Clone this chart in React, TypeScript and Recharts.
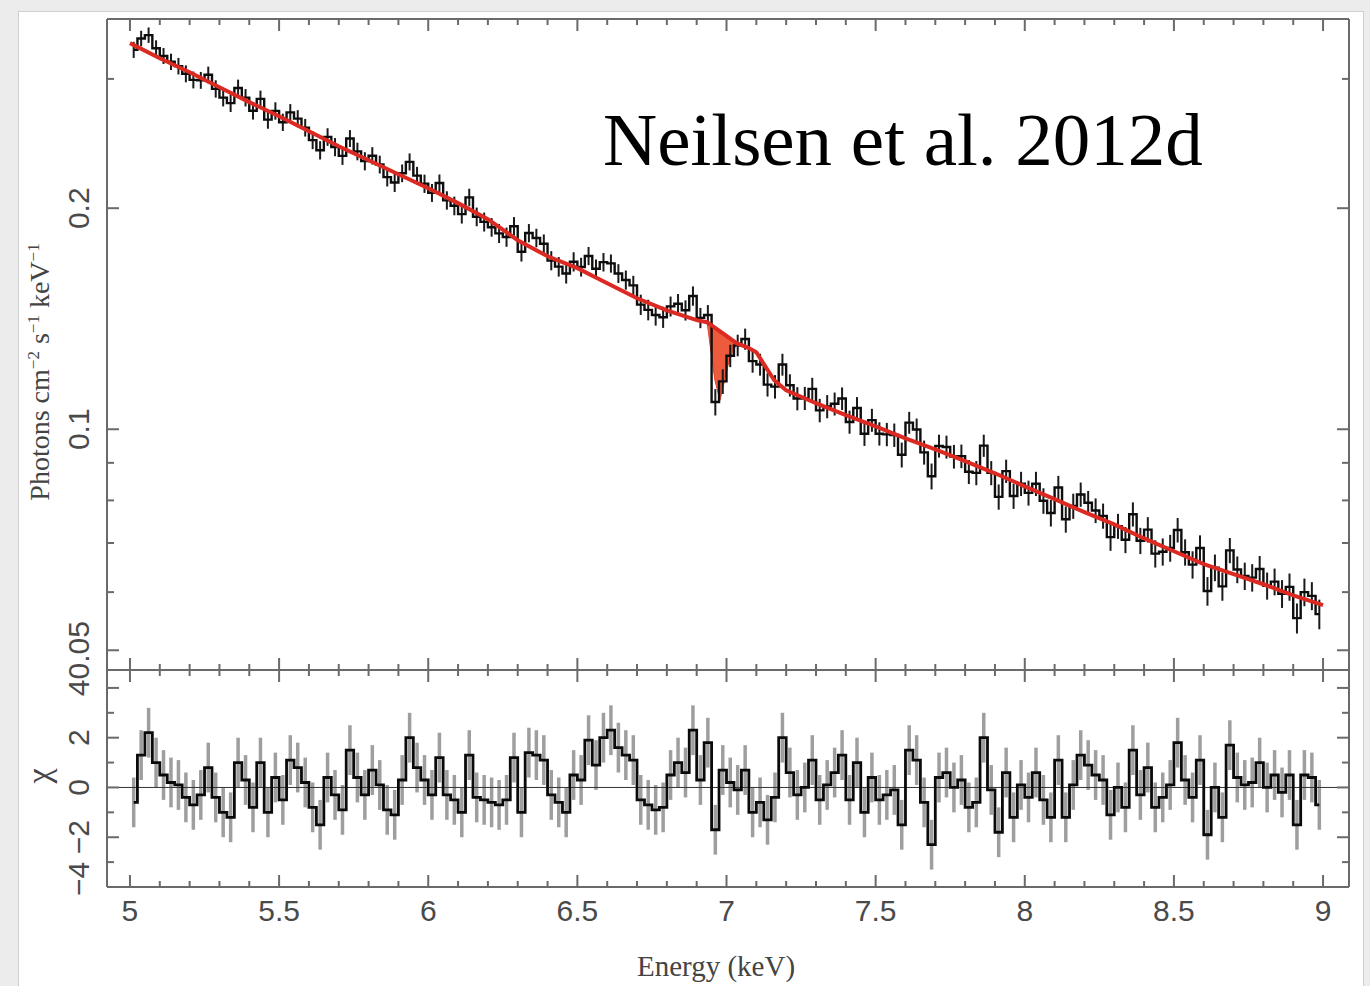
import React from 'react';
import { ComposedChart, Line, Area, XAxis, YAxis, ErrorBar, ReferenceLine } from 'recharts';

// ---- binning of the spectrum (bin edges start at 5 keV, 0.025 keV wide) ----
const BIN_START = 5.0;
const BIN_WIDTH = 0.025;

// ---- observed flux per bin (photons cm^-2 s^-1 keV^-1) ----
const fluxValues = [
  0.3287, 0.3406, 0.3442, 0.3303, 0.3224, 0.3166, 0.3123, 0.3049,
  0.2991, 0.2987, 0.3039, 0.2908, 0.2829, 0.2781, 0.2916, 0.2829,
  0.2715, 0.2818, 0.2640, 0.2714, 0.2619, 0.2701, 0.2649, 0.2575,
  0.2476, 0.2399, 0.2501, 0.2423, 0.2357, 0.2489, 0.2390, 0.2318,
  0.2358, 0.2294, 0.2205, 0.2168, 0.2232, 0.2313, 0.2215, 0.2160,
  0.2099, 0.2164, 0.2050, 0.2015, 0.1963, 0.2069, 0.1947, 0.1916,
  0.1884, 0.1848, 0.1827, 0.1890, 0.1745, 0.1850, 0.1822, 0.1789,
  0.1697, 0.1665, 0.1630, 0.1691, 0.1663, 0.1722, 0.1654, 0.1689,
  0.1682, 0.1630, 0.1597, 0.1570, 0.1478, 0.1454, 0.1431, 0.1421,
  0.1470, 0.1482, 0.1452, 0.1519, 0.1418, 0.1431, 0.1089, 0.1162,
  0.1259, 0.1301, 0.1327, 0.1238, 0.1225, 0.1150, 0.1143, 0.1225,
  0.1148, 0.1101, 0.1102, 0.1135, 0.1061, 0.1074, 0.1083, 0.1101,
  0.1023, 0.1069, 0.0986, 0.1029, 0.0986, 0.0984, 0.0982, 0.0923,
  0.1021, 0.0999, 0.0930, 0.0863, 0.0949, 0.0946, 0.0918, 0.0919,
  0.0875, 0.0872, 0.0950, 0.0872, 0.0809, 0.0877, 0.0811, 0.0843,
  0.0819, 0.0843, 0.0799, 0.0769, 0.0833, 0.0754, 0.0786, 0.0815,
  0.0794, 0.0775, 0.0762, 0.0713, 0.0738, 0.0707, 0.0766, 0.0705,
  0.0730, 0.0677, 0.0681, 0.0689, 0.0729, 0.0680, 0.0654, 0.0689,
  0.0602, 0.0648, 0.0611, 0.0684, 0.0644, 0.0631, 0.0628, 0.0645,
  0.0612, 0.0620, 0.0597, 0.0610, 0.0553, 0.0600, 0.0593, 0.0560,
];

// ---- 1-sigma flux uncertainty, one value per 0.1 keV (4 bins each) ----
const fluxSigma = [
  0.0083, 0.0081, 0.0079, 0.0077, 0.0074, 0.0071, 0.0069, 0.0066, 0.0064, 0.0062,
  0.0059, 0.0057, 0.0055, 0.0053, 0.0051, 0.0049, 0.0048, 0.0047, 0.0046, 0.0045,
  0.0044, 0.0042, 0.0040, 0.0039, 0.0037, 0.0036, 0.0035, 0.0034, 0.0033, 0.0032,
  0.0032, 0.0031, 0.0030, 0.0029, 0.0029, 0.0028, 0.0027, 0.0027, 0.0026, 0.0026,
];

// ---- residuals (chi) per bin ----
const chiValues = [
  -0.6, 1.3, 2.2, 1.0, 0.5, 0.2, 0.1, -0.4, -0.7, -0.3, 0.8, -0.4, -1.0, -1.2, 1.0, 0.3,
  -0.8, 1.0, -1.0, 0.4, -0.5, 1.1, 0.8, 0.2, -0.8, -1.5, 0.4, -0.3, -0.9, 1.5, 0.4, -0.3,
  0.7, 0.1, -0.9, -1.1, 0.3, 2.0, 0.8, 0.3, -0.3, 1.2, -0.3, -0.5, -1.0, 1.3, -0.4, -0.5,
  -0.6, -0.7, -0.5, 1.2, -1.0, 1.4, 1.3, 1.1, -0.3, -0.6, -1.0, 0.5, 0.3, 1.9, 0.9, 2.0,
  2.3, 1.6, 1.3, 1.1, -0.5, -0.7, -0.9, -0.8, 0.5, 1.0, 0.6, 2.3, 0.3, 1.8, -1.7, 0.7,
  0.2, -0.1, 0.7, -1.0, -0.6, -1.3, -0.4, 2.0, 0.6, -0.3, 0.0, 1.1, -0.5, 0.1, 0.6, 1.3,
  -0.5, 1.0, -1.0, 0.4, -0.5, -0.3, -0.1, -1.5, 1.5, 1.1, -0.6, -2.3, 0.4, 0.6, 0.0, 0.3,
  -0.8, -0.6, 2.0, -0.1, -1.8, 0.6, -1.2, 0.1, -0.4, 0.6, -0.5, -1.2, 1.1, -1.2, 0.1, 1.3,
  0.9, 0.5, 0.3, -1.1, 0.0, -0.8, 1.5, -0.3, 0.8, -0.8, -0.4, 0.1, 1.8, 0.3, -0.4, 1.1,
  -1.9, 0.0, -1.2, 1.7, 0.4, 0.1, 0.2, 1.0, 0.0, 0.5, -0.2, 0.5, -1.5, 0.5, 0.4, -0.7,
];

// ---- best-fit model curve ----
const modelEnergy = [
  5.0, 5.1, 5.2, 5.3, 5.4, 5.5, 5.6, 5.7, 5.8, 5.9, 6.0, 6.1, 6.2, 6.3, 6.4, 6.5, 6.6, 6.7, 6.8, 6.9,
  6.935, 7.035, 7.07, 7.1, 7.13, 7.16, 7.2,
  7.3, 7.4, 7.5, 7.6, 7.7, 7.8, 7.9, 8.0, 8.1, 8.2, 8.3, 8.4, 8.5, 8.6, 8.7, 8.8, 8.9, 9.0,
];
const modelFlux = [
  0.3356, 0.3201, 0.3064, 0.2923, 0.2789, 0.2669, 0.2546, 0.2429, 0.2325, 0.2225,
  0.2129, 0.2032, 0.1932, 0.1809, 0.1720, 0.1657, 0.1581, 0.1508, 0.1452, 0.1408,
  0.1399, 0.1309, 0.1293, 0.1273, 0.1218, 0.1166, 0.1130,
  0.1085, 0.1045, 0.1009, 0.0972, 0.0939, 0.0905, 0.0871, 0.0836, 0.0803, 0.0771,
  0.0742, 0.0710, 0.0682, 0.0655, 0.0635, 0.0615, 0.0594, 0.0576,
];

// ---- Fe XXVI absorption line (shaded model band) ----
const dipEnergy = [6.935, 6.945, 6.961, 6.978, 6.99, 7.005, 7.02, 7.035];
const dipLow = [0.1399, 0.1301, 0.1166, 0.1095, 0.1148, 0.1222, 0.1273, 0.1309];
const dipHigh = [0.1399, 0.1390, 0.1375, 0.1360, 0.1349, 0.1335, 0.1322, 0.1309];

// ---- ticks ----
const xTicks = [5, 5.1, 5.2, 5.3, 5.4, 5.5, 5.6, 5.7, 5.8, 5.9, 6, 6.1, 6.2, 6.3, 6.4, 6.5, 6.6, 6.7, 6.8, 6.9,
  7, 7.1, 7.2, 7.3, 7.4, 7.5, 7.6, 7.7, 7.8, 7.9, 8, 8.1, 8.2, 8.3, 8.4, 8.5, 8.6, 8.7, 8.8, 8.9, 9];
const xMajorTicks = [5, 5.5, 6, 6.5, 7, 7.5, 8, 8.5, 9];
const fluxTicks = [0.05, 0.06, 0.07, 0.08, 0.09, 0.1, 0.2, 0.3];
const fluxLabelTicks = [0.05, 0.1, 0.2];
const chiTicks = [-4, -3, -2, -1, 0, 1, 2, 3, 4];
const chiLabelTicks = [-4, -2, 0, 2, 4];

const X_DOMAIN = [4.923, 9.087];
const FLUX_DOMAIN = [0.047, 0.362];
const CHI_DOMAIN = [-4, 4.72];

// ---- tables for the library ----
const specTable = fluxValues.map((f, i) => ({
  energy: BIN_START + BIN_WIDTH * (i + 0.5),
  flux: f,
  fluxErr: fluxSigma[Math.floor(i / 4)],
  chi: chiValues[i],
  chiErr: 1,
}));
const modelTable = modelEnergy.map((e, i) => ({ energy: e, model: modelFlux[i] }));
const dipTable = dipEnergy.map((e, i) => ({ energy: e, band: [dipLow[i], dipHigh[i]] }));

// ---- styling ----
const AX = '#6a6a6a';
const TICK_TEXT = { fontFamily: '"Liberation Sans", Arial, sans-serif', fontSize: 30, fill: '#4a4a4a' };
const SERIF = '"Liberation Serif", "Times New Roman", serif';

const isIn = (arr: number[], v: number) => arr.some((a) => Math.abs(a - v) < 1e-6);
const fmtNum = (v: number) => (v < 0 ? '\u2212' + Math.abs(v) : String(v));

const makeXTick = (side: 'top' | 'bottom', showLabels: boolean) => (props: any) => {
  const { x, y, payload } = props;
  const v = payload.value;
  const major = isIn(xMajorTicks, v);
  const len = major ? 12 : 6;
  const dir = side === 'bottom' ? -1 : 1;
  return (
    <g>
      <line x1={x} x2={x} y1={y} y2={y + dir * len} stroke={AX} strokeWidth={2} />
      {showLabels && major ? (
        <text x={x} y={y + 34} textAnchor="middle" {...TICK_TEXT}>
          {fmtNum(v)}
        </text>
      ) : null}
    </g>
  );
};

const makeYTick = (side: 'left' | 'right', majors: number[], labels: number[] | null, nudgeBottom: boolean) => (props: any) => {
  const { x, y, payload } = props;
  const v = payload.value;
  const major = isIn(majors, v);
  const len = major ? 12 : 7;
  const dir = side === 'left' ? 1 : -1;
  const ly = nudgeBottom && Math.abs(v + 4) < 1e-6 ? y - 8 : y;
  return (
    <g>
      <line x1={x} x2={x + dir * len} y1={y} y2={y} stroke={AX} strokeWidth={2} />
      {labels && isIn(labels, v) ? (
        <text transform={`translate(${x - 18},${ly}) rotate(-90)`} textAnchor="middle" {...TICK_TEXT}>
          {fmtNum(v)}
        </text>
      ) : null}
    </g>
  );
};

const axisLine = { stroke: AX, strokeWidth: 2 };

export default function App() {
  return (
    <div style={{ position: 'absolute', left: 0, top: 0, width: 1370, height: 986, background: '#ececec', overflow: 'hidden' }}>
      <div style={{ position: 'absolute', left: 18, top: 11, width: 1344, height: 1000, background: '#ffffff', border: '1px solid #cfcfcf' }} />

      {/* upper panel: spectrum */}
      <div style={{ position: 'absolute', left: 0, top: 0 }}>
        <ComposedChart width={1370} height={680} data={specTable} margin={{ top: 18, right: 20, bottom: 9, left: 106 }}>
          <XAxis dataKey="energy" type="number" domain={X_DOMAIN} allowDataOverflow ticks={xTicks} interval={0}
            orientation="bottom" height={1} tickSize={0} tickMargin={0} axisLine={axisLine} tickLine={false}
            tick={makeXTick('bottom', false)} />
          <XAxis xAxisId="top" dataKey="energy" type="number" domain={X_DOMAIN} allowDataOverflow ticks={xTicks} interval={0}
            orientation="top" height={1} tickSize={0} tickMargin={0} axisLine={axisLine} tickLine={false}
            tick={makeXTick('top', false)} />
          <YAxis scale="log" type="number" domain={FLUX_DOMAIN} allowDataOverflow ticks={fluxTicks} interval={0}
            orientation="left" width={1} tickSize={0} tickMargin={0} axisLine={axisLine} tickLine={false}
            tick={makeYTick('left', fluxLabelTicks, fluxLabelTicks, false)} />
          <YAxis yAxisId="right" scale="log" type="number" domain={FLUX_DOMAIN} allowDataOverflow ticks={fluxTicks} interval={0}
            orientation="right" width={1} tickSize={0} tickMargin={0} axisLine={axisLine} tickLine={false}
            tick={makeYTick('right', fluxLabelTicks, null, false)} />
          <Line dataKey="flux" type="step" stroke="#0d0d0d" strokeWidth={2.4} dot={false} isAnimationActive={false}>
            <ErrorBar dataKey="fluxErr" width={0} stroke="#1a1a1a" strokeWidth={2} direction="y" />
          </Line>
          <Area data={dipTable} dataKey="band" type="linear" stroke="#e2452c" strokeWidth={1} fill="#ee5a3c" fillOpacity={1} isAnimationActive={false} />
          <Line data={modelTable} dataKey="model" type="linear" stroke="#dc2a22" strokeWidth={4} dot={false} isAnimationActive={false} />
        </ComposedChart>
      </div>

      {/* lower panel: residuals */}
      <div style={{ position: 'absolute', left: 0, top: 660 }}>
        <ComposedChart width={1370} height={326} data={specTable} margin={{ top: 9, right: 20, bottom: 98, left: 106 }}>
          <XAxis dataKey="energy" type="number" domain={X_DOMAIN} allowDataOverflow ticks={xTicks} interval={0}
            orientation="bottom" height={1} tickSize={0} tickMargin={0} axisLine={axisLine} tickLine={false}
            tick={makeXTick('bottom', true)} />
          <XAxis xAxisId="top" dataKey="energy" type="number" domain={X_DOMAIN} allowDataOverflow ticks={xTicks} interval={0}
            orientation="top" height={1} tickSize={0} tickMargin={0} axisLine={axisLine} tickLine={false}
            tick={makeXTick('top', false)} />
          <YAxis type="number" domain={CHI_DOMAIN} allowDataOverflow ticks={chiTicks} interval={0}
            orientation="left" width={1} tickSize={0} tickMargin={0} axisLine={axisLine} tickLine={false}
            tick={makeYTick('left', chiLabelTicks, chiLabelTicks, true)} />
          <YAxis yAxisId="right" type="number" domain={CHI_DOMAIN} allowDataOverflow ticks={chiTicks} interval={0}
            orientation="right" width={1} tickSize={0} tickMargin={0} axisLine={axisLine} tickLine={false}
            tick={makeYTick('right', chiLabelTicks, null, false)} />
          <Line dataKey="chi" type="step" stroke="none" dot={false} isAnimationActive={false}>
            <ErrorBar dataKey="chiErr" width={0} stroke="#9e9e9e" strokeWidth={3.5} direction="y" />
          </Line>
          <ReferenceLine y={0} stroke="#333333" strokeWidth={1} />
          <Line dataKey="chi" type="step" stroke="#0a0a0a" strokeWidth={2.8} dot={false} isAnimationActive={false} />
        </ComposedChart>
      </div>

      {/* titles and annotation */}
      <svg width={1370} height={986} style={{ position: 'absolute', left: 0, top: 0, pointerEvents: 'none' }}>
        <text transform="translate(49,372) rotate(-90)" textAnchor="middle" fontFamily={SERIF} fontSize={28} fill="#444444">
          Photons cm<tspan dy={-10} fontSize={17}>{'\u22122'}</tspan>
          <tspan dy={10}> s</tspan>
          <tspan dy={-10} fontSize={17}>{'\u22121'}</tspan>
          <tspan dy={10}> keV</tspan>
          <tspan dy={-10} fontSize={17}>{'\u22121'}</tspan>
        </text>
        <text transform="translate(50,776) rotate(-90)" textAnchor="middle" fontFamily={SERIF} fontSize={34} fill="#444444">
          χ
        </text>
        <text x={716} y={976} textAnchor="middle" fontFamily={SERIF} fontSize={29} fill="#444444">
          Energy (keV)
        </text>
        <text x={603} y={165} fontFamily={SERIF} fontSize={75} fill="#000000">
          Neilsen et al. 2012d
        </text>
      </svg>
    </div>
  );
}
